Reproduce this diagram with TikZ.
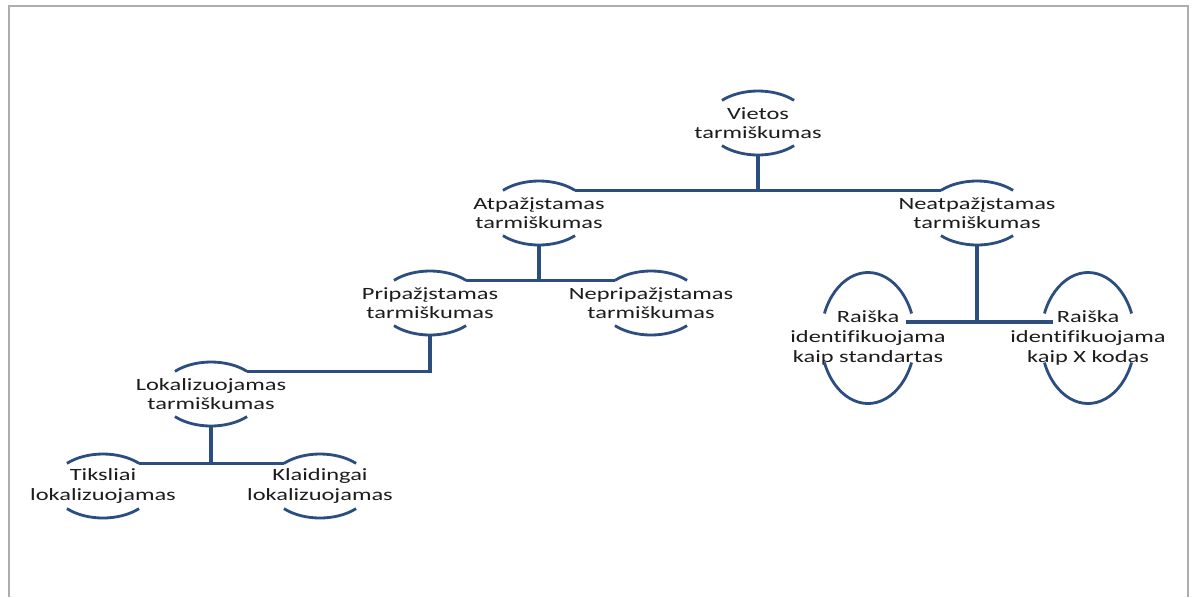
\documentclass[tikz,border=0pt]{standalone}
\usepackage{fontspec}
\setmainfont{Carlito}[FakeStretch=1.42, Ligatures={NoCommon}]
\usetikzlibrary{calc}
\definecolor{linkblue}{RGB}{44,77,127}
\definecolor{framegray}{RGB}{176,172,174}
\definecolor{txt}{RGB}{28,28,28}
\tikzset{
  lbl/.style={align=center, text=txt, inner sep=0pt, font=\fontsize{12.9}{14.7}\selectfont},
  arcln/.style={draw=linkblue, line width=2.1pt},
  conn/.style={draw=linkblue, line width=2.3pt},
  frameln/.style={draw=framegray, line width=2pt}
}
% label with a cap arc above and below it (name, x, y, text)
\newcommand\capnode[4]{%
  \node[lbl] (#1) at (#2,#3) {#4};
  \draw[arcln] (#1.center) ++(45:51 and 32) coordinate (#1-tr)
      arc[start angle=45, end angle=135, x radius=51, y radius=32] coordinate (#1-tl);
  \draw[arcln] (#1.center) ++(225:51 and 32)
      arc[start angle=225, end angle=315, x radius=51, y radius=32];
  \coordinate (#1-b) at ($(#1.center)+(0,-32)$);
}
% label with tall side arcs (name, x, y, text)
\newcommand\tallnode[4]{%
  \node[lbl] (#1) at (#2,#3) {#4};
  \draw[arcln] (#1.center) ++(22:47 and 65.5)
      arc[start angle=22, end angle=158, x radius=47, y radius=65.5];
  \draw[arcln] (#1.center) ++(202:47 and 65.5)
      arc[start angle=202, end angle=338, x radius=47, y radius=65.5];
}
\begin{document}
\begin{tikzpicture}[x=0.75pt, y=0.75pt]
\useasboundingbox (0,0) rectangle (1194,-597);
\fill[white] (0,0) rectangle (1194,-597);
% page frame
\draw[frameln] (9,-597) -- (9,-6) -- (1188,-6) -- (1188,-597);

\capnode{v}{758}{-123}{Vietos\\tarmiškumas}
\capnode{a}{539}{-213}{Atpažįstamas\\tarmiškumas}
\capnode{n}{977}{-213}{Neatpažįstamas\\tarmiškumas}
\capnode{p}{430}{-303}{Pripažįstamas\\tarmiškumas}
\capnode{np}{651}{-303}{Nepripažįstamas\\tarmiškumas}
\capnode{l}{211}{-394}{Lokalizuojamas\\tarmiškumas}
\capnode{t}{103}{-486}{Tiksliai\\lokalizuojamas}
\capnode{k}{320}{-486}{Klaidingai\\lokalizuojamas}
\tallnode{r1}{868}{-338}{Raiška\\identifikuojama\\kaip standartas}
\tallnode{r2}{1088}{-338}{Raiška\\identifikuojama\\kaip X kodas}
\coordinate (r1-e) at (906,-322);
\coordinate (r2-w) at (1053,-322);

% connectors
\draw[conn] (v-b) -- (v-b |- a-tr);
\draw[conn] (a-tr) -- (n-tl);
\draw[conn] (a-b) -- (a-b |- p-tr);
\draw[conn] (p-tr) -- (np-tl);
\draw[conn] (p-b) |- (l-tr);
\draw[conn] (l-b) -- (l-b |- t-tr);
\draw[conn] (t-tr) -- (k-tl);
\draw[conn] (n-b) -- (n-b |- r1-e);
\draw[conn] (r1-e) -- (r2-w);
\end{tikzpicture}
\end{document}
